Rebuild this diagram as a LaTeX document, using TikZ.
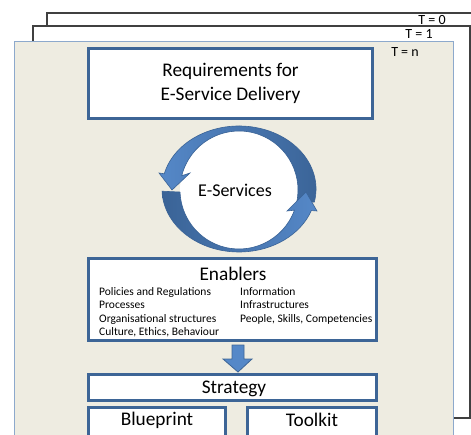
\documentclass[tikz,border=0pt]{standalone}
\usepackage{fontspec}
\setmainfont{Carlito}
\usetikzlibrary{calc}
\definecolor{boxblue}{HTML}{3D6596}
\definecolor{arrowlight}{HTML}{5588C8}
\definecolor{arrowdark}{HTML}{3A6396}
\definecolor{paper}{HTML}{EEECE1}
\definecolor{framegray}{HTML}{404040}
\definecolor{edgeblue}{HTML}{8DA9CC}

\begin{document}
\begin{tikzpicture}[x=1pt, y=1pt,
	stage/.style={draw=framegray, line width=1.2pt, fill=white},
	bluebox/.style={draw=boxblue, line width=3.2pt, fill=white, inner sep=0pt},
	bigtext/.style={font=\fontsize{19.3}{24}\selectfont},
	itemtext/.style={font=\fontsize{11.5}{13}\selectfont, inner sep=0pt, anchor=base west},
	tlabel/.style={font=\fontsize{14}{16}\selectfont, inner sep=0pt},
	cyclearrow/.style={draw=arrowdark, line width=0.6pt},
	blockarrow/.style={fill=arrowlight, draw=boxblue, line width=0.8pt}]
	\useasboundingbox (0,0) rectangle (471,434);
	\clip (0,0) rectangle (471,434);

	% time slices
	\draw[stage] (47,421) rectangle (490,30);
	\draw[stage] (33,408) rectangle (470,16);
	\draw[draw=edgeblue, line width=0.8pt, fill=paper] (14,393) rectangle (453,-10);
	\node[tlabel] (t0) at (432,414) {T = 0};
	\node[tlabel] (t1) at (419,400.5) {T = 1};
	\node[tlabel] (tn) at (405,382) {T = n};

	% requirements
	\node[bluebox, bigtext, align=center, minimum width=284pt, minimum height=70pt] (req) at (230.5,350.5) {Requirements for\\E-Service Delivery};

	% e-services cycle
	\begin{scope}[shift={(239,244)}]
		\fill[white] (0,0) circle (59);
		\shadedraw[cyclearrow, left color=arrowlight, right color=arrowdark]
			($(0,1)+(-12:77 and 63)$) arc[start angle=-12, end angle=166, x radius=77, y radius=63]
			-- (-80,17) -- (-67,0) -- (-49,17) -- (166:59)
			arc[start angle=166, end angle=-12, radius=59] -- cycle;
		\shadedraw[cyclearrow, left color=arrowdark, right color=arrowlight]
			($(0,1)+(182:77 and 63)$) arc[start angle=182, end angle=340, x radius=77, y radius=63]
			-- (78,-21) -- (67,-2) -- (48,-21) -- (340:59)
			arc[start angle=340, end angle=182, radius=59] -- cycle;
	\end{scope}
	\node[font=\fontsize{18}{20}\selectfont] (eserv) at (235,244) {E-Services};

	% enablers
	\node[bluebox, minimum width=288pt, minimum height=82pt] (enablers) at (232.5,134.5) {};
	\node[bigtext] (entitle) at (233,160) {Enablers};
	\foreach \txt [count=\i] in {Policies and Regulations, Processes, Organisational structures, {Culture, Ethics, Behaviour}}
		\node[itemtext] (left\i) at (99,152.5-13.6*\i) {\txt};
	\foreach \txt [count=\i] in {Information, Infrastructures, {People, Skills, Competencies}}
		\node[itemtext] (right\i) at (240,152.5-13.6*\i) {\txt};

	\draw[blockarrow] (232,89) -- (244,89) -- (244,75) -- (252,75) -- (238,62) -- (223,75) -- (232,75) -- cycle;

	% strategy
	\node[bluebox, minimum width=288pt, minimum height=26pt] (strategy) at (232.5,46.5) {};
	\node[bigtext] (strattxt) at (234,45) {Strategy};
	\node[bluebox, minimum width=137pt, minimum height=37pt] (blueprint) at (157,8) {};
	\node[bigtext] (bluetxt) at (157,14) {Blueprint};
	\node[bluebox, minimum width=129pt, minimum height=37pt] (toolkit) at (312,8) {};
	\node[bigtext] (tooltxt) at (312,14) {Toolkit};
\end{tikzpicture}
\end{document}
